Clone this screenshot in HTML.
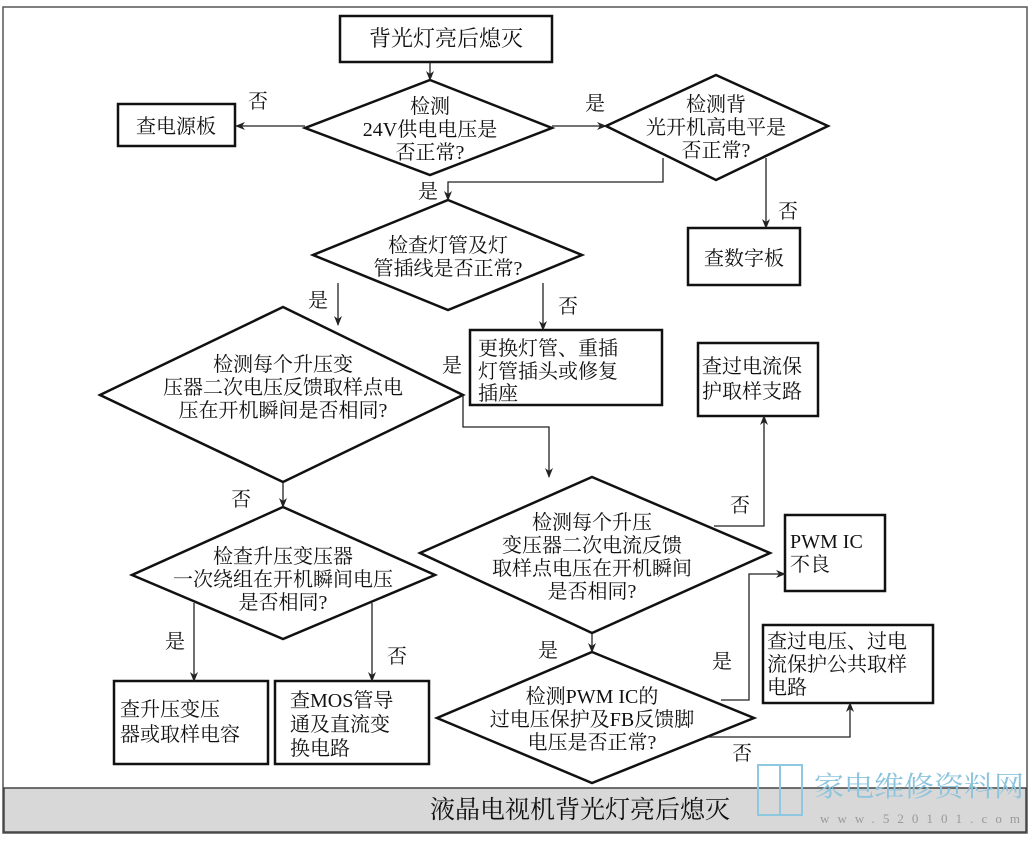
<!DOCTYPE html>
<html><head><meta charset="utf-8"><style>
html,body{margin:0;padding:0;background:#fff;}
svg text{font-family:"Liberation Serif","Noto Serif CJK SC",serif;font-size:20px;fill:#111;}
</style></head><body>
<svg width="1032" height="842" viewBox="0 0 1032 842" xmlns="http://www.w3.org/2000/svg">
<defs><marker id="a" markerWidth="10" markerHeight="10" refX="9" refY="4" orient="auto" markerUnits="userSpaceOnUse"><path d="M0,0 L10,4 L0,8 L3,4 z" fill="#222"/></marker></defs>
<rect x="3" y="7" width="1024" height="826" fill="#fff" stroke="#555" stroke-width="1.5"/>
<rect x="4" y="788" width="1022" height="44" fill="#d8d8d8" stroke="#444" stroke-width="1.5"/>
<text x="580" y="818" text-anchor="middle" style="font-size:25px">液晶电视机背光灯亮后熄灭</text>
<g fill="none" stroke="#8ec7e0" stroke-width="2"><rect x="758" y="765" width="22" height="50"/><rect x="780" y="765" width="22" height="50"/></g>
<text x="814" y="796" textLength="210" lengthAdjust="spacingAndGlyphs" style="font-size:28px;fill:#8cc3dc">家电维修资料网</text>
<text x="820" y="823" textLength="200" style="font-size:13px;fill:#999">www.520101.com</text>

<g fill="none" stroke="#111" stroke-width="2.5">
<rect x="340" y="16" width="212" height="46"/>
<rect x="118" y="104" width="117" height="42"/>
<rect x="688" y="228" width="112" height="57"/>
<rect x="470" y="330" width="192" height="75"/>
<rect x="698" y="343" width="120" height="73"/>
<rect x="785" y="515" width="100" height="76"/>
<rect x="763" y="625" width="170" height="78"/>
<rect x="114" y="681" width="154" height="83"/>
<rect x="275" y="681" width="154" height="83"/>
<polygon points="430,80 552,128 430,175 305,128"/>
<polygon points="716,75 828,126 716,180 606,126"/>
<polygon points="448,200 582,255 448,310 313,255"/>
<polygon points="283,307 463,395 283,482 100,395"/>
<polygon points="283,507 435,575 283,639 132,575"/>
<polygon points="592,477 770,553 592,633 420,553"/>
<polygon points="592,652 754,718 592,783 437,718"/>
</g>
<g fill="none" stroke="#222" stroke-width="1.3" marker-end="url(#a)">
<path d="M430,62 V80"/>
<path d="M305,126 H236"/>
<path d="M552,126 H606"/>
<path d="M663,158 V182 H448 V200"/>
<path d="M766,158 V228"/>
<path d="M338,283 V325"/>
<path d="M543,283 V330"/>
<path d="M463,395 V427 H549 V477"/>
<path d="M283,482 V507"/>
<path d="M194,603 V681"/>
<path d="M372,603 V681"/>
<path d="M714,526 H764 V416"/>
<path d="M592,633 V652"/>
<path d="M721,700 H749 V574 H785"/>
<path d="M708,737 H850 V703"/>
</g>
<text x="446" y="46" text-anchor="middle" style="font-size:22px">背光灯亮后熄灭</text>
<text x="176" y="133" text-anchor="middle">查电源板</text>
<text x="744" y="265" text-anchor="middle">查数字板</text>
<g text-anchor="middle">
<text x="430" y="113">检测</text><text x="430" y="136">24V供电电压是</text><text x="430" y="159">否正常?</text>
<text x="716" y="111">检测背</text><text x="716" y="134">光开机高电平是</text><text x="716" y="157">否正常?</text>
<text x="448" y="252">检查灯管及灯</text><text x="448" y="275">管插线是否正常?</text>
<text x="283" y="371">检测每个升压变</text><text x="283" y="394">压器二次电压反馈取样点电</text><text x="283" y="417">压在开机瞬间是否相同?</text>
<text x="283" y="563">检查升压变压器</text><text x="283" y="586">一次绕组在开机瞬间电压</text><text x="283" y="609">是否相同?</text>
<text x="592" y="529">检测每个升压</text><text x="592" y="552">变压器二次电流反馈</text><text x="592" y="575">取样点电压在开机瞬间</text><text x="592" y="598">是否相同?</text>
<text x="592" y="703">检测PWM IC的</text><text x="592" y="726">过电压保护及FB反馈脚</text><text x="592" y="749">电压是否正常?</text>
</g>
<text x="478" y="355">更换灯管、重插</text><text x="478" y="378">灯管插头或修复</text><text x="478" y="400">插座</text>
<text x="702" y="373">查过电流保</text><text x="702" y="398">护取样支路</text>
<text x="790" y="548">PWM IC</text><text x="790" y="571">不良</text>
<text x="767" y="648">查过电压、过电</text><text x="767" y="671">流保护公共取样</text><text x="767" y="694">电路</text>
<text x="120" y="716">查升压变压</text><text x="120" y="741">器或取样电容</text>
<text x="290" y="707">查MOS管导</text><text x="290" y="731">通及直流变</text><text x="290" y="755">换电路</text>
<text x="248" y="108">否</text><text x="585" y="110">是</text><text x="418" y="198">是</text>
<text x="778" y="218">否</text><text x="308" y="307">是</text><text x="558" y="313">否</text>
<text x="442" y="372">是</text><text x="231" y="506">否</text><text x="730" y="512">否</text>
<text x="165" y="648">是</text><text x="387" y="663">否</text><text x="538" y="657">是</text>
<text x="712" y="668">是</text><text x="732" y="760">否</text>
</svg>
</body></html>
